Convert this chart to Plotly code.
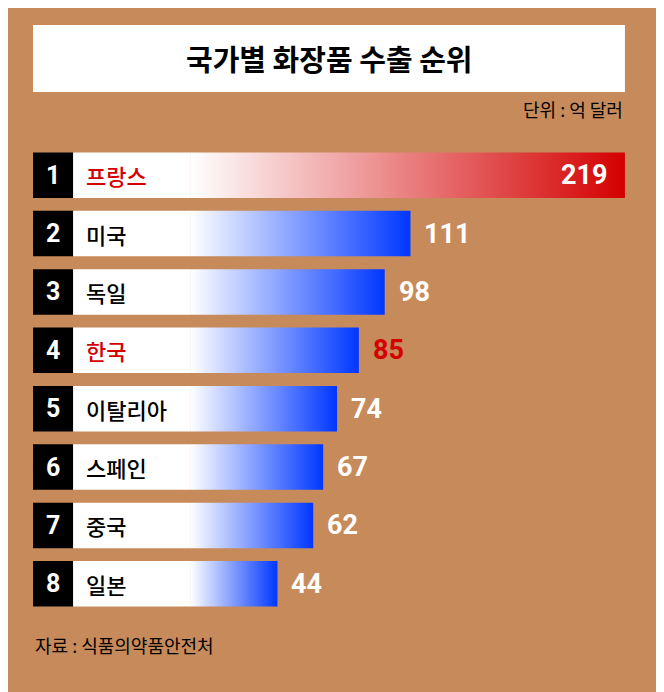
import plotly.graph_objects as go

ranks = [1, 2, 3, 4, 5, 6, 7, 8]
countries = ["프랑스", "미국", "독일", "한국", "이탈리아", "스페인", "중국", "일본"]
values = [219, 111, 98, 85, 74, 67, 62, 44]
title = "국가별 화장품 수출 순위"
unit = "단위 : 억 달러"
source = "자료 : 식품의약품안전처"

BG = "#C78A5A"
BLUE = "#0037FF"
RED = "#D40000"
KFONT = "Noto Sans CJK KR"
NUM = "Liberation Sans Narrow, Roboto, Arial"
H = 0.39

fig = go.Figure()
shapes = []
ann = []
for r, c, v in zip(ranks, countries, values):
    col = RED if r == 1 else BLUE
    fig.add_trace(go.Scatter(
        x=[0, v, v, 0, 0], y=[r - H, r - H, r + H, r + H, r - H],
        mode="lines", line=dict(width=0), fill="toself",
        fillgradient=dict(type="horizontal", colorscale=[[0, "white"], [1, col]]),
        hoverinfo="skip", showlegend=False))
    shapes.append(dict(type="rect", xref="x", yref="y", x0=-79.1, x1=-58.9, y0=r - H, y1=r + H,
                       fillcolor="black", line_width=0, layer="above"))
    shapes.append(dict(type="rect", xref="x", yref="y", x0=-58.9, x1=0, y0=r - H, y1=r + H,
                       fillcolor="white", line_width=0, layer="above"))
    ann.append(dict(x=-69, y=r, text=f"<b>{r}</b>", showarrow=False,
                    font=dict(family=NUM, size=25, color="white")))
    namecol = RED if c in ("프랑스", "한국") else "black"
    ann.append(dict(x=-53.5, y=r, text=c, showarrow=False, xanchor="left",
                    font=dict(family=KFONT, size=22, color=namecol, weight=500)))
    if r == 1:
        ann.append(dict(x=v - 8, y=r, text=f"<b>{v}</b>", showarrow=False, xanchor="right",
                        font=dict(family=NUM, size=27, color="white")))
    else:
        vcol = RED if c == "한국" else "white"
        ann.append(dict(x=v + 6, y=r, text=f"<b>{v}</b>", showarrow=False, xanchor="left",
                        font=dict(family=NUM, size=27, color=vcol)))

shapes.append(dict(type="rect", xref="x", yref="y", x0=-79.1, x1=219, y0=-1.57, y1=-0.425,
                   fillcolor="white", line_width=0, layer="below"))
ann.append(dict(x=70, y=-1.0, text=f"<b>{title}</b>", showarrow=False,
                font=dict(family=KFONT, size=29, color="black")))
ann.append(dict(x=219, y=-0.13, text=unit, showarrow=False, xanchor="right",
                font=dict(family=KFONT, size=18, color="black")))
ann.append(dict(x=-79.1, y=9.05, text=source, showarrow=False, xanchor="left",
                font=dict(family=KFONT, size=18, color="black")))

fig.update_layout(
    width=664, height=692, margin=dict(l=0, r=0, t=0, b=0),
    paper_bgcolor=BG, plot_bgcolor=BG, shapes=shapes, annotations=ann,
    xaxis=dict(range=[-91.7, 242.7], visible=False, fixedrange=True),
    yaxis=dict(range=[9.99, -1.863], visible=False, fixedrange=True),
)
fig.write_html("out.html")
